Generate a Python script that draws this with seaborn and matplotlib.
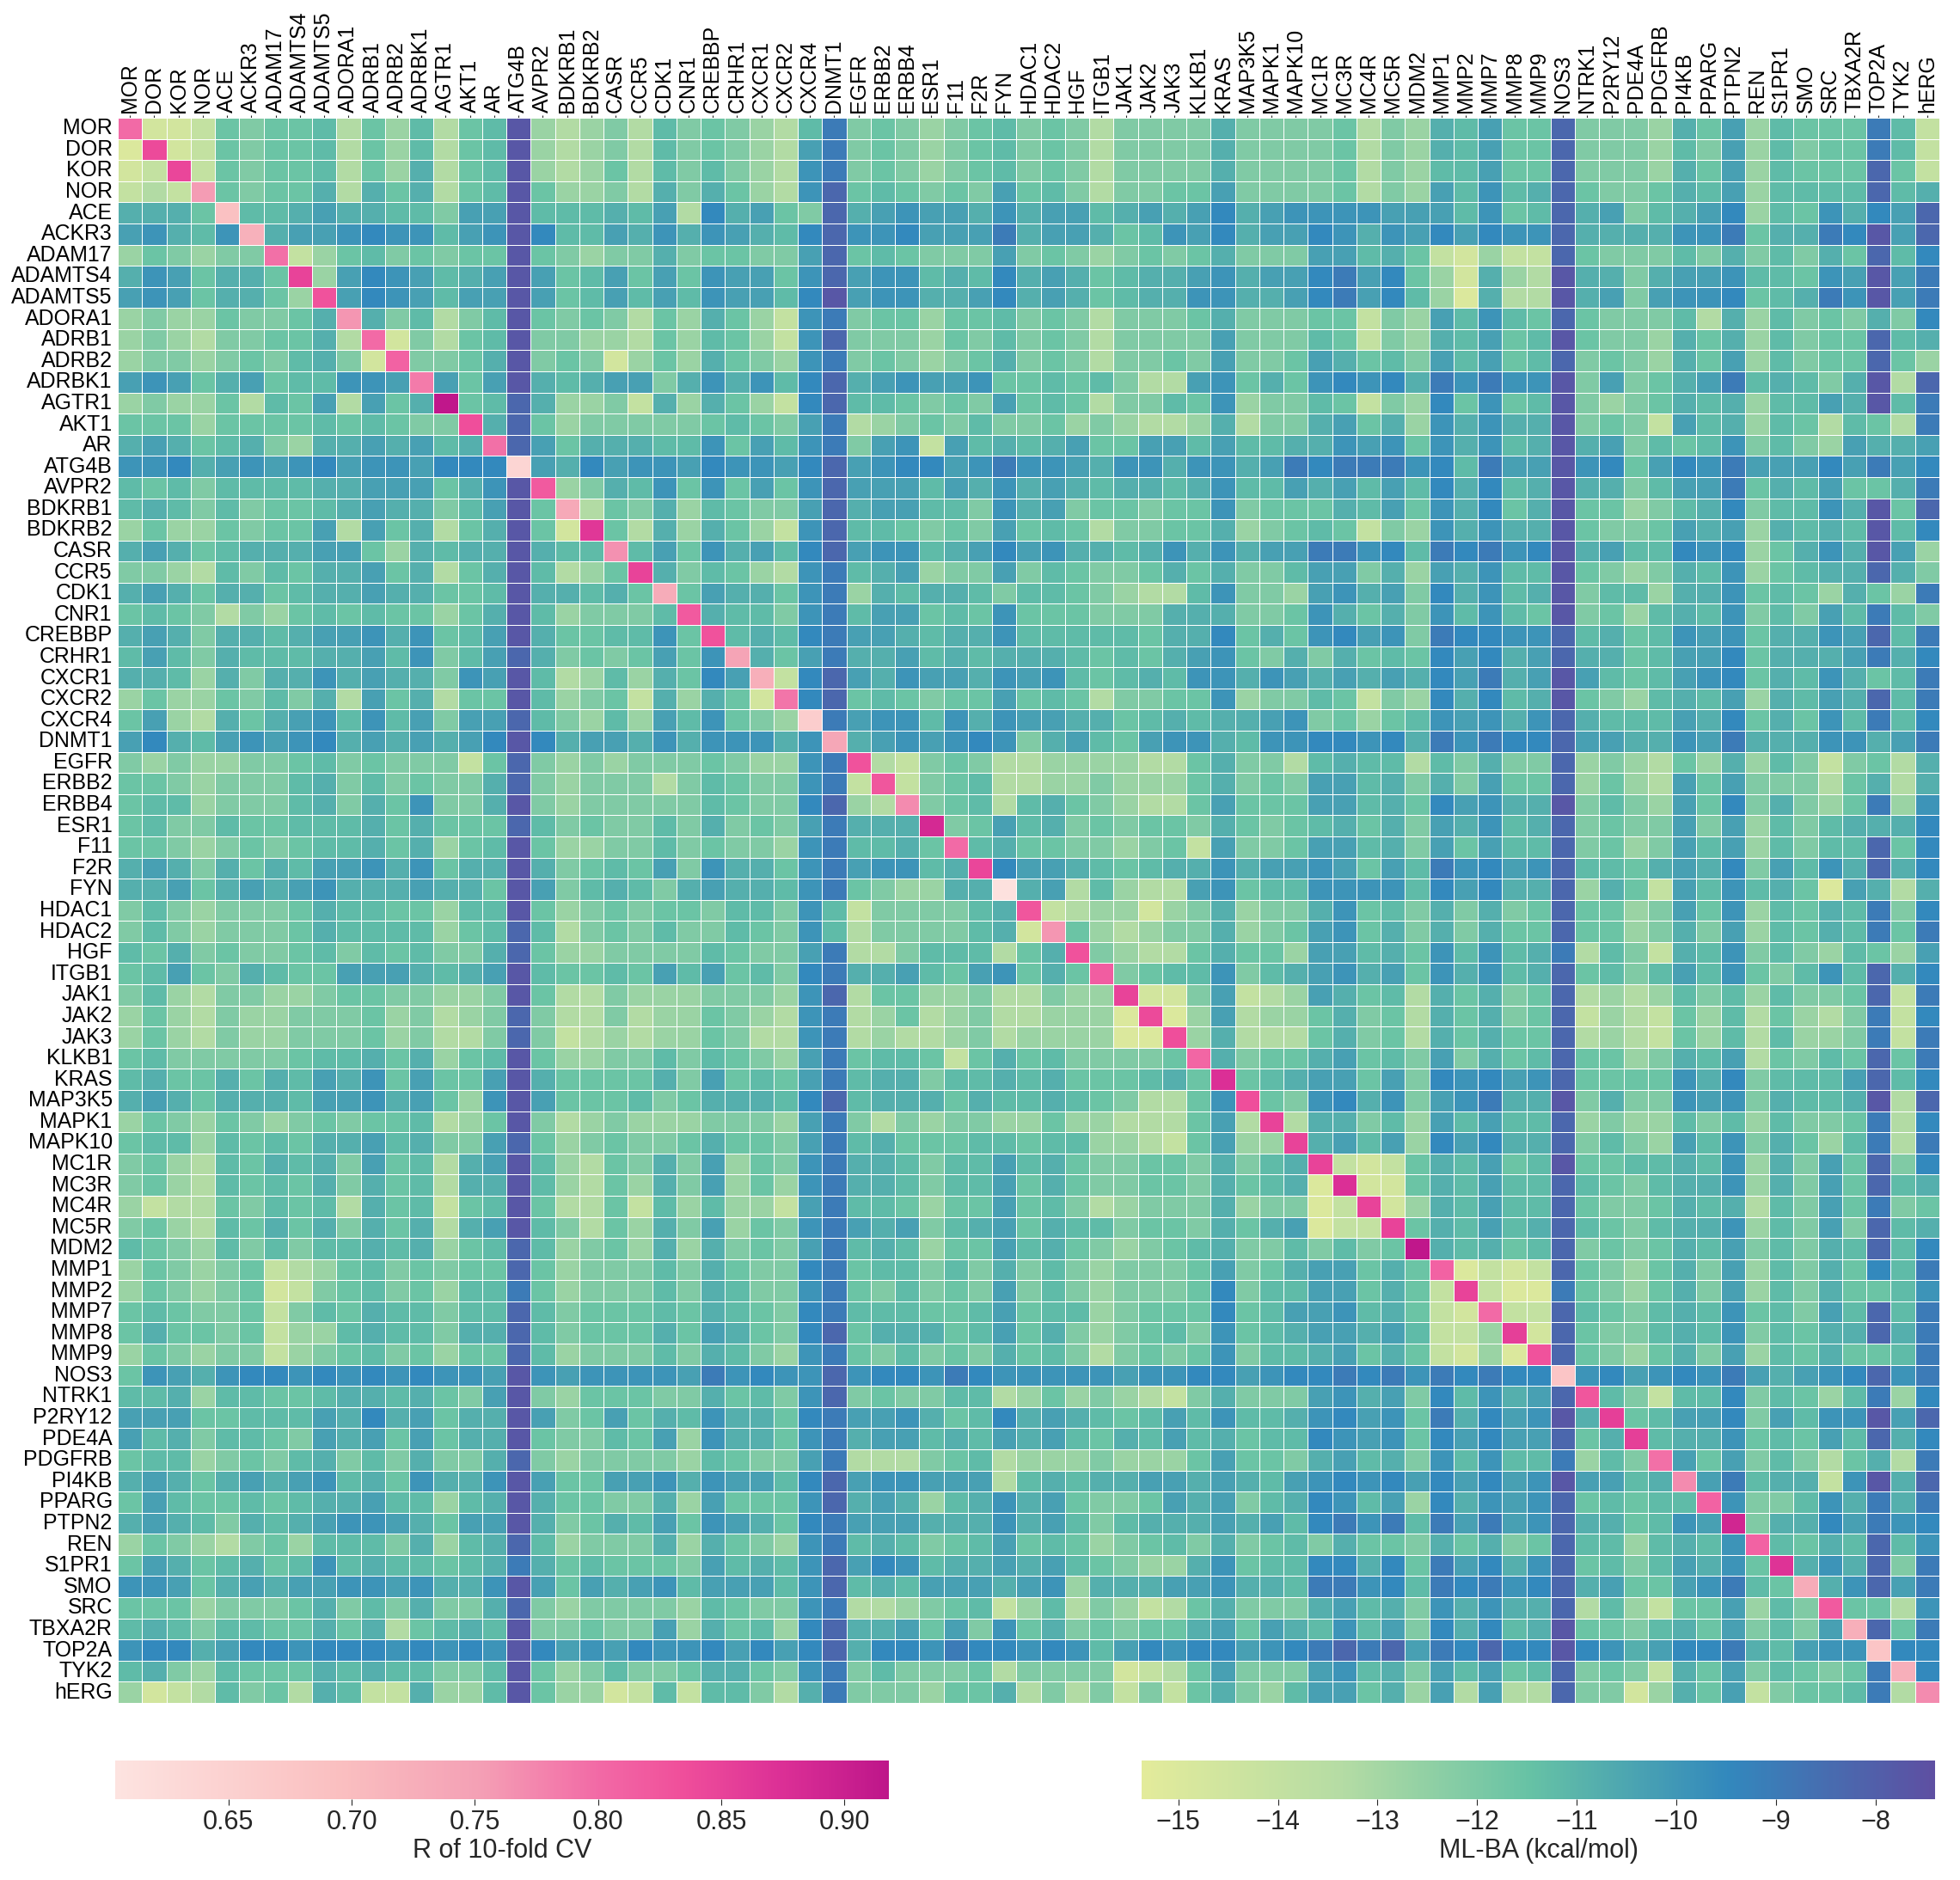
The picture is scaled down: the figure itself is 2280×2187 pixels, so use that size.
import numpy as np
import matplotlib.pyplot as plt
import seaborn as sns
from matplotlib.colors import LinearSegmentedColormap

targets = ['MOR', 'DOR', 'KOR', 'NOR', 'ACE', 'ACKR3', 'ADAM17', 'ADAMTS4', 'ADAMTS5', 'ADORA1',
           'ADRB1', 'ADRB2', 'ADRBK1', 'AGTR1', 'AKT1', 'AR', 'ATG4B', 'AVPR2', 'BDKRB1', 'BDKRB2',
           'CASR', 'CCR5', 'CDK1', 'CNR1', 'CREBBP', 'CRHR1', 'CXCR1', 'CXCR2', 'CXCR4', 'DNMT1',
           'EGFR', 'ERBB2', 'ERBB4', 'ESR1', 'F11', 'F2R', 'FYN', 'HDAC1', 'HDAC2', 'HGF',
           'ITGB1', 'JAK1', 'JAK2', 'JAK3', 'KLKB1', 'KRAS', 'MAP3K5', 'MAPK1', 'MAPK10', 'MC1R',
           'MC3R', 'MC4R', 'MC5R', 'MDM2', 'MMP1', 'MMP2', 'MMP7', 'MMP8', 'MMP9', 'NOS3',
           'NTRK1', 'P2RY12', 'PDE4A', 'PDGFRB', 'PI4KB', 'PPARG', 'PTPN2', 'REN', 'S1PR1', 'SMO',
           'SRC', 'TBXA2R', 'TOP2A', 'TYK2', 'hERG']

# R of 10-fold CV, read from the diagonal cells
cv_r = [0.80, 0.84, 0.845, 0.755, 0.69, 0.72, 0.795, 0.85, 0.83, 0.76,
        0.80, 0.81, 0.785, 0.915, 0.835, 0.795, 0.64, 0.82, 0.735, 0.865,
        0.765, 0.85, 0.73, 0.82, 0.83, 0.745, 0.725, 0.79, 0.66, 0.74,
        0.83, 0.825, 0.77, 0.885, 0.80, 0.845, 0.61, 0.825, 0.76, 0.83,
        0.815, 0.85, 0.84, 0.835, 0.805, 0.875, 0.835, 0.85, 0.85, 0.85,
        0.875, 0.85, 0.85, 0.915, 0.81, 0.85, 0.80, 0.855, 0.83, 0.68,
        0.825, 0.855, 0.855, 0.795, 0.77, 0.81, 0.89, 0.81, 0.87, 0.73,
        0.82, 0.725, 0.68, 0.725, 0.77]

# ML-BA estimated per cell, one letter per cell ('.' is the diagonal)
ba_levels = {'a': -15.0, 'b': -14.6, 'c': -14.0, 'd': -13.3, 'e': -12.7, 'f': -12.1, 'g': -11.6, 'h': -11.2,
             'i': -10.8, 'j': -10.3, 'k': -9.9, 'l': -9.5, 'm': -9.0, 'n': -8.3, 'o': -7.7}

ba_rows = [
    '.bbcgfgghdgehdghoedefd hfgfedhmfgfefghfgfdffffifff fgdfeihjggnfffeigjehgggmhc',
    'a.bcgfgghdgehdghoedefd hfgfedjmfgfefghfgfdffffifff fgdfeihjggnfffehfjehfggmhc',
    'bc.cgfgghdgeidghoedegd hfhfedkmfgfefghfgfdffffifff fgdfehhjggnfffeigjehgggngc',
    'cdc.gfggidigidghogeefd ifigedknghgfgfjghfdffggjfff fgdfejhkhingffgihjehhhhnhi',
    'iiig.hhijiihhfjjohhhih jdlijgfnijkjjikijjhijijlijk kkkjjjhkghnijfhijlehgkiljn',
    'jkihk.ijjklkkhjkolhhji kikjihlnkkljjjmijjighkjlijj lkikjljlkkniiiikkmgiimlojn',
    'egfeff.ceghfgfggogfeff ifggffjnghgfffjfgfefgfgifff jjhigcbeccngfffhfifhfignhl',
    'ikjgiig.ejlkjhijojghjg jgkjjgknjkkhihlijighiijkijj lmjlgebiedoiifijjkhhgkjojm',
    'jkjgiige.jlkjhjjojghjh jhkjjhlojkkiijlijighiikkiij lmjlheaiddoijfjkklghimkojm',
    'efeegffgi.ifhdfhogfgfd geigeckmfggegghfgfdfffgifff ggcfejhkhgngfffhdiehfgfifl',
    'efedffggid.bfdghoffeed gehgecknfffegfhfgfdffffjfff hgcfeihjghogffeigiehfggnhi',
    'effefgfhifb.ffgiofgfbe geigfekmfgfefgifgfdffgfjffg jighfjhjghnfgfeigjehfggnge',
    'jkjgijghhkkj.jgjoihijj fikikhlnijkjjkgghghfddjkgig klklimkmkkofjfgijmhihfiodn',
    'efeegdhgjdjgi.ghnieefc ieigeclnhhgfgfjghgdffhgkeff hgcfelgkghofefgihiehhjiohm',
    'gggegggghghgff.ingefff ffghgfjmdefgfhffgefeddeidff ijgiekikiiofgfcjhiehgdhgdm',
    'ijighifeiijijhi.njgiii hhkgjhkmfjkcjhihijggjjhjhhi ikjkgkikhioijfhghkfhfejiij',
    'kklijkjkljkkjlll.jiljk kjlkkjlnjklljkmkkjikkikkijm lmmmklhmjjoklgjlkmjjjljmjl',
    'hghfhhhhiijjjgiko.efih kgkgjgknjjjhjikijihiihikhhj ijhjhlilhioiifhjjmgihjggim',
    'hihfhfgghijiifhjog.dgf iehgffjnijjhhfkijfggfggkfgg gihjgkilgioggefhilfhhkiogn',
    'egeegfggjdjgidgiogb.gd ieigecknhhgfgfjghgdffggiefg hgcfekikiiogffgjijeihihohl',
    'ijighiiijjgeihiioihh.h jgkijhlnjkkhijljkiihikikijj mmklhmlmkloijhhlklegikioje',
    'ffedhfhgiijgidgiohdeg. ifhgedkmhijeffjfhgffgigiffh jjfiejikhhogfefihkeghiinif',
    'ijigiighiijiigghoiihig .gjiigkmeihiihfhhgfeddhkffe jkijflikhiofhheiikghgeigem',
    'ghgfdfeghghggegiohefff h.ihhfkmhjjghgkgggfffiiiffg kigifkhkhgofgehihkfhfjhmhf',
    'ijifiihijjkikghjoigghh kg.hihlmjjihiikhhhhhgiilgig kljkfmllkknhighkjkgiikjnhm',
    'hjhfihhhiijhkfhjnifgfg jgk.igjmiijhihiiihghgijkgfi fighgljlijniighjjlgiiijmil',
    'iiheifiikijiifkjohdehe iglj.clnjikjjikjkhghihkkikj ijijiljmijojhghjklgihkighm',
    'egeegfhfidjgidggohefgc ieigb.lnghgfggjghgdffggkeff hgcfelilhiogfehihjeihjinhm',
    'gjedigijkhkhjfjjnhfehe jhkgfe.mjkkhkikjjiighihiijk fgeghkjkiknihhhjilgigkhmhl',
    'jlihjkjklijijijlolijji kikkkik.ijkjklkfijhgjkkihkk llklimkmllnjjiikjmiiikkijm',
    'fefeeffghfgfffcgnfefef ffgfeekm.dcfgfddeeeeddgiffd hihhdhfiffnefedgeiehfcfgdi',
    'ggfefffhifhfgffinfefff dfhgffkmc.cfghddeefeeegifgf jjhififjggnegedjgjfffdgidi',
    'ghhefffhifigkffiofefff ffhgfflned.fghdhigfeddgjggg jjhigljkiiofhfejglfifegmek',
    'ghffhgghhhigigggnhfgff hfifgfjmiii.fgjhifgfggfigfg higifjikhinfgffjfjehfhiiil',
    'ggfefgfghhigieghogeeff hfgffekmhhig.higgffefgcjffg jjhifjgjhhnfgefjhjehfhhngl',
    'ijifigihjjkikgiioifghg jfkiigkmjkkhi.ljjihghiikijj kjgjhmkljknhhgijilfjhkinil',
    'iijgijijkiiijiigojfhih fijiihkmgfeeii.ijdheddjkghh kkkkhljliineigcjhkhigajidi',
    'fhfefffgihhggehhogefgf ggfhhfkhcffffhi.cdeebefieff ikghfififgnggefjgkehgihmfl',
    'fhfefffgihhhheghnhdfgf hffhgfkhdffffhib.gedeffiefg jkgififiggnggefifjehgihmgm',
    'hgifgffghfhghffingeeff ffhgffjmddfhhhdgi.feddgigge jjhigkhkhimdhfcihkfhfehgej',
    'ghjgfihggjjjihijohgghg jhjghflmiijhgjkgig.fghhkfhi jkijgkikhinghfhjhkgfhkhnil',
    'fhedffeefggffeefogddfe eefffekndggeefddfee.bbfjcde jighdigifgndedehfhehffgncm',
    'egedfeefffgefdefnfddfd eegfedkmdegdefddeeea.aejdee gifgdigifgncedcgehdgedfmcl',
    'egedfeefffgefddfnfcded eegfddkmdeddefdeeeeaa.eiddd gifgdigiggndedcgehdheefmcm',
    'ghfffffghhigieghogeeff hfhgfejmghhgcgighffffg.ifgg ijghfjfighnggefihjdgfhgngm',
    'higgigihjikgjggjoigggg ifjghgjmhiifhhihiggghig.ghi jjgjflkljknggggkilfhhhjnhl',
    'ijigiiihjjkijgekojgggh fgiiihlnhiiigihhihgfddgk.gf klikfjkmiiofiffkjkfihhiodn',
    'egfegfefgfgghdegofdefe eefffejmfdfeffeegeedddgjd.d iifhejhjhhnefeehfhehffgmdl',
    'ghhehghgiijhiffjngefgf fgiggfjmhiggghhghheedcgjee. ijhjeljliinfhfejhkfigehmdm',
    'fgedhgihifjghdijohedgf ifjegfkmiihfhhjhigffggfifhi .cbcgihjghogghhihkeifjgnfl',
    'fgedhghgifighdiiohedge ifjegekmiihfhhjgigffggfighi a.bbgihjhhnhgfhiikeifjgnhi',
    'ecddgfhghdighcghogddgc heheecjmhhgeggjghfdefffieff ac.beihjhhngffgihidhfjgmfg',
    'fgedhgigifigidijohfdge ifjegfkmjijfhijgihhfggfigij acc.gihjhinhgfhiikehfjfnhi',
    'hgfehfhfhhihieghnhefge ieifgfjmhiheggjhigfefghiffh fhfg.ihighnfgfgihjfhfihnhl',
    'egfefgcdeghfgfggngefff hfigfflmghhfhfifhfefffgjfgi jjgig.acbcngfegifjehfiglhm',
    'egfefgbcfghfgehhmgefff hfihffkmgfhfgfjfhfefffglfhh jjgigc.caamgfegifjehfigghk',
    'ghgffgcfhgihhfhhnhfggg hgihgflmhhhgghjghhefggglghj jkhigcb.ccnhgfhihkghfjhnhm',
    'giggfgceehihhfiinhfggg igjigflngiiighjgifefghfkghi jjijhcce.bngffhihkfhgiinim',
    'egfeffcefghfgeggnhefff hfihfekmgfhfgfighfdfgfgkfhh ijgigcbea.ngfegifjehgigghm',
    'gkjikllklklklkkjokjkkk kjmklkknkllkmlkkkkkjkklljkl lmlmkmlmll.kljklkmjijklnkm',
    'hhiehhgghiihigfjofeggg ffighfknfgffhhdegefedcfifff jkijflhkijn.hfchhlfhgehmel',
    'jjjgghhhjilijgiiojfgjg ihkiiglmjjkighlijihghjhkhhi kljkgmiljkoi.ghjjlfjhkkojn',
    'jhifhhgfjijgjgiiogffhg jekiigkmijjhihjijhgihjhighh lkjkgljljjngi.hiikghgjhnil',
    'ghhefgfhifhfiffinfefff fehgffjmdddfghdeeefeeegjggf ijhifkhkhhmehf.jgjfhfdgidm',
    'ijigijijkhigkiikojggjj kikjjhlnjkkjjjdhihiijjijihj klkljljljkojjhi.jmhiickoin',
    'gjhgghghiijhhehioiggff iejgggknijiehikijgffgjijfhi lkhjelikjknghghh.kffhkimim',
    'ijihfihijkkjigjjoifgih jgkjiglmjjjiiikijhfhiiijijh lmkmhmjmjkniighkj.fiiljmkl',
    'egfedfgehhhfiehinhefff ieigfekmhihfghjghgefghfifgh figgfigifgnhhehihk.hgihnhk',
    'gjighighkhihhghimighgg gfjhihknjlkhiijijhgfeeikghh llilgmjliknghfhjikg.ikinfm',
    'kkjgijijjkkjkiikojgjij khjjjhknhihjjjijkeiiijjkiih mmklhmlmklnijggjkmhg.iknjm',
    'gggefffgifhfiffinfefff fehgffkmddefghcehdfecdgifff ijhifkikiindhecggjehf.ggdk',
    'hihfhhggigidghihoffgff jeighelniijgjfkgifgfggijgji hkhjflilhioggfhigjfhfj.ngm',
    'kllijllklllklklkoljkjl kkljljlnillkmllklkhjlklljkl mnmnjmlnllolkijllmihjkk.ll',
    'hifehgggihihhffhogefhf fgiigfkmfhfffgdffffbcdgjfff jkhifjhjghnfgfcigjfhgfgm.l',
    'ebcdhfgdihccieehogeebc hchhfdimfffeggidfdfcfcgifeh jjgiejdjddnffbeigjcfgghmd.',
]

ba = np.array([[ba_levels.get(c, np.nan) for c in row.replace(' ', '')] for row in ba_rows])
r_diag = np.full(ba.shape, np.nan)
np.fill_diagonal(r_diag, cv_r)

ba_cmap = LinearSegmentedColormap.from_list('ba', [(0.0, '#E3EB9B'), (0.25, '#B5DCA4'), (0.49, '#66C2A5'),
                                                   (0.74, '#3288BD'), (1.0, '#5E4FA2')])
r_cmap = LinearSegmentedColormap.from_list('cv', [(0.0, '#FDE3E0'), (0.29, '#FABFC0'), (0.47, '#F4A0B5'),
                                                  (0.63, '#F268A5'), (0.73, '#F0509B'), (0.86, '#DC3096'),
                                                  (1.0, '#BE168A')])

sns.set_theme(style='white')
plt.rcParams['font.family'] = ['Liberation Sans', 'DejaVu Sans']

fig = plt.figure(figsize=(22.8, 21.87), dpi=100)
ax = fig.add_axes([137 / 2280, 1 - 1981 / 2187, 2119 / 2280, 1844 / 2187])
cax_r = fig.add_axes([134 / 2280, 1 - 2093 / 2187, 900 / 2280, 45 / 2187])
cax_ba = fig.add_axes([1328 / 2280, 1 - 2093 / 2187, 923 / 2280, 45 / 2187])

sns.heatmap(ba, ax=ax, cmap=ba_cmap, vmin=-15.37, vmax=-7.4, linewidths=0.7, linecolor='white', square=False,
            xticklabels=targets, yticklabels=targets, cbar_ax=cax_ba,
            cbar_kws={'orientation': 'horizontal', 'ticks': list(range(-15, -7))})
sns.heatmap(r_diag, ax=ax, cmap=r_cmap, vmin=0.604, vmax=0.918, linewidths=0.7, linecolor='white', square=False,
            xticklabels=targets, yticklabels=targets, cbar_ax=cax_r,
            cbar_kws={'orientation': 'horizontal', 'ticks': [0.65, 0.70, 0.75, 0.80, 0.85, 0.90]})

ax.xaxis.tick_top()
ax.tick_params(axis='x', labelsize=17.9, rotation=90, length=2.5, width=0.8, color='#262626', labelcolor='black', pad=2)
ax.tick_params(axis='y', labelsize=17.9, rotation=0, length=2.5, width=0.8, color='#262626', labelcolor='black', pad=2)

for cax, label in [(cax_r, 'R of 10-fold CV'), (cax_ba, 'ML-BA (kcal/mol)')]:
    cax.tick_params(axis='x', labelsize=22, length=5, width=0.8, color='#262626', labelcolor='#262626', bottom=True, pad=4)
    cax.set_xlabel(label, fontsize=22, color='#262626', labelpad=2)

fig.savefig('out.png', dpi=100)
